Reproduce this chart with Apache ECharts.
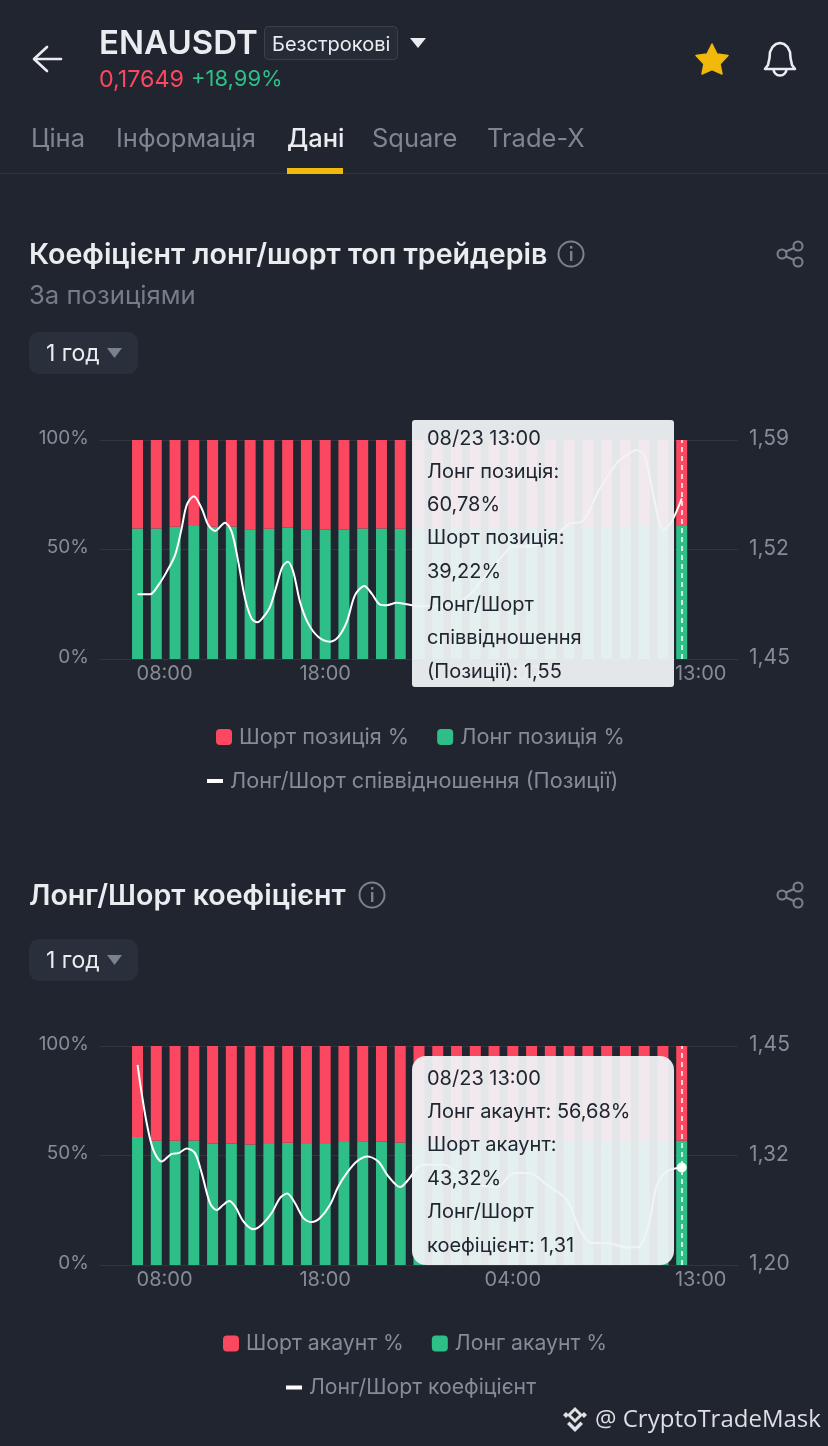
<!DOCTYPE html>
<html><head><meta charset="utf-8">
<style>html,body{margin:0;padding:0;background:#20252f}#c{width:828px;height:1446px}</style>
<script src="https://cdn.jsdelivr.net/npm/echarts@6/dist/echarts.min.js"></script>
</head><body><div id="c"></div>
<script>
const hours=['08:00','09:00','10:00','11:00','12:00','13:00','14:00','15:00','16:00','17:00','18:00','19:00','20:00','21:00','22:00','23:00','00:00','01:00','02:00','03:00','04:00','05:00','06:00','07:00','08:00','09:00','10:00','11:00','12:00','13:00'];
const posLong=[59.6,59.6,60.4,60.7,60.4,60.5,59.3,59.5,60.1,59.3,59.1,59.1,59.6,59.6,59.5,59.6,59.7,59.8,59.8,59.9,60,60,60.2,60.3,60.4,60.5,60.6,60.7,60.7,60.78];
const posShort=[40.4,40.4,39.6,39.3,39.6,39.5,40.7,40.5,39.9,40.7,40.9,40.9,40.4,40.4,40.5,40.4,40.3,40.2,40.2,40.1,40,40,39.8,39.7,39.6,39.5,39.4,39.3,39.3,39.22];
/* line readings: [hour position along the bars, ratio] */
const posRatio=[[0,1.4914],[.67,1.4914],[1.11,1.4972],[1.55,1.5057],[2,1.5164],[2.35,1.5334],[2.62,1.5484],[3,1.5541],[3.42,1.5462],[3.77,1.5356],[4.13,1.5319],[4.66,1.5371],[5.02,1.5313],[5.37,1.5121],[5.73,1.4886],[6.08,1.4758],[6.39,1.4735],[6.71,1.4769],[7.06,1.4833],[7.42,1.4972],[7.72,1.5089],[8,1.5121],[8.3,1.5057],[8.66,1.4865],[9.1,1.4726],[9.64,1.4641],[10.26,1.4611],[10.7,1.4641],[11.15,1.4737],[11.59,1.4908],[12.09,1.4967],[12.48,1.4918],[12.92,1.4848],[13.28,1.4844],[13.81,1.4859],[14.34,1.485],[15,1.4837],[15.41,1.4839],[16.2,1.4839],[17.36,1.4876],[18.43,1.5014],[19.32,1.5142],[20.03,1.5217],[20.91,1.5221],[21.8,1.5249],[22.5,1.5313],[23.05,1.5366],[23.67,1.5377],[24.64,1.559],[25.53,1.5751],[26.07,1.5804],[26.6,1.5836],[27.04,1.5793],[27.49,1.5548],[28.02,1.5324],[28.46,1.5377],[29,1.5526]];
const accLong=[58.5,56.7,56.7,56.8,55.5,55.5,55,55.3,55.8,55.3,55.3,56.2,56.5,56.4,55.9,56,56,55.9,56,56.1,56.2,56.2,56.3,56.3,56.4,56.4,56.5,56.5,56.6,56.68];
const accShort=[41.5,43.3,43.3,43.2,44.5,44.5,45,44.7,44.2,44.7,44.7,43.8,43.5,43.6,44.1,44,44,44.1,44,43.9,43.8,43.8,43.7,43.7,43.6,43.6,43.5,43.5,43.4,43.32];
const accRatio=[[0,1.4284],[.22,1.3961],[.49,1.3619],[.84,1.3315],[1.29,1.3182],[1.82,1.3269],[2.18,1.3277],[2.62,1.333],[3.06,1.3277],[3.42,1.3049],[3.86,1.2707],[4.22,1.2627],[4.57,1.2688],[4.88,1.273],[5.2,1.2669],[5.64,1.2498],[6.17,1.2407],[6.62,1.246],[7.15,1.2593],[7.59,1.2764],[7.98,1.2817],[8.39,1.2707],[8.84,1.2536],[9.28,1.249],[9.72,1.2536],[10.26,1.2688],[10.7,1.2897],[11.15,1.3049],[11.68,1.3182],[12.25,1.3239],[12.83,1.3182],[13.37,1.3011],[13.99,1.2889],[14.43,1.2973],[14.97,1.3125],[15.23,1.3144],[16.3,1.3144],[17.36,1.3011],[18.6,1.2897],[19.23,1.2897],[20.03,1.3049],[20.91,1.3049],[21.8,1.2916],[22.87,1.2745],[23.58,1.2403],[24.2,1.2251],[25,1.2251],[26.07,1.2201],[26.69,1.2205],[27.22,1.2441],[27.66,1.2897],[28.2,1.3068],[29,1.3113]];
const posRight=[1.45,1.52,1.59];
const accRight=[1.20,1.325,1.45];
const shownLabels={2:'08:00',12:'18:00',22:'04:00',31:'13:00'};
const FONT='Inter, "Noto Sans", sans-serif';
const BG='#20252f',GRID='#30363f',AXT='#868c97',RED='#fb4860',GREEN='#2dbf87',YEL='#f0b90b';
const lead=[null,null],trail=[null,null,null];
const pad=a=>[...lead,...a,...trail];
const cats=['','',...hours,'','',''];
const lastIdx=cats.length-4;

function xAxis(i){const st={color:AXT,fontSize:20,fontFamily:FONT};return {type:'category',gridIndex:i,data:cats,boundaryGap:false,
  axisLine:{lineStyle:{color:GRID}},axisTick:{show:false},splitLine:{show:false},
  axisLabel:Object.assign({interval:0,margin:5,
    formatter:(v,idx)=>{const s=shownLabels[idx];if(!s)return '';
      return idx===2?'{a|'+s+'}':idx===31?'{b|'+s+'}':'{c|'+s+'}';},
    rich:{a:Object.assign({padding:[0,0,0,54]},st),b:Object.assign({padding:[0,0,0,38]},st),c:st}},st)};}
function xLine(i){return {type:'value',gridIndex:i,min:-2,max:32,show:false};}
function yLeft(i){return {type:'value',gridIndex:i,min:0,max:100,interval:50,position:'left',
  axisLine:{show:false},axisTick:{show:false},splitLine:{lineStyle:{color:GRID}},
  axisLabel:{margin:11,formatter:v=>'{a|'+v+'%}',rich:{a:{color:AXT,fontSize:19,fontFamily:FONT,padding:[0,0,4,0]}}}};}
function yRight(i,ticks){return {type:'value',gridIndex:i,min:ticks[0],max:ticks[2],position:'right',
  axisLine:{show:false},axisTick:{show:false},splitLine:{show:false},
  axisLabel:{customValues:ticks,margin:11,rich:{a:{color:AXT,fontSize:21,fontFamily:FONT,padding:[0,0,2,0]}},
    formatter:v=>'{a|'+(Math.floor(v*100+1e-6)/100).toFixed(2).replace('.',',')+'}'}};}
function seriesFor(i,nL,nS,nR,L,S,R,dot){
  const k=i*2;
  const line={name:nR,type:'line',xAxisIndex:i+2,yAxisIndex:k+1,data:R,smooth:0.3,showSymbol:false,z:5,
    lineStyle:{color:'#fff',width:2},itemStyle:{color:'#fff'}};
  if(dot)line.markPoint={symbol:'circle',symbolSize:10,itemStyle:{color:'#fff'},label:{show:false},
    data:[{coord:R[R.length-1]}]};
  return [
   {name:nL,type:'bar',stack:'s'+i,xAxisIndex:i,yAxisIndex:k,data:pad(L),barWidth:11,itemStyle:{color:GREEN},
    markLine:{silent:true,symbol:'none',label:{show:false},lineStyle:{color:'#fff',type:[5,4],width:1.5},data:[{xAxis:lastIdx}]},z:2},
   {name:nS,type:'bar',stack:'s'+i,xAxisIndex:i,yAxisIndex:k,data:pad(S),barWidth:11,itemStyle:{color:RED},z:2},
   line];
}
function legends(y,nS,nL,nR,x1,x2,size){
  const ts={color:AXT,fontSize:size,fontFamily:FONT,padding:[0,0,0,2]};
  return [
   {data:[{name:nS,icon:'roundRect',itemStyle:{color:RED}},{name:nL,icon:'roundRect',itemStyle:{color:GREEN}}],left:x1,top:y-3,padding:0,
    itemWidth:16,itemHeight:16,itemGap:28,textStyle:ts,selectedMode:false},
   {data:[{name:nR,icon:'rect',itemStyle:{color:'#fff'}}],left:x2,top:y+44-3,padding:0,itemWidth:16,itemHeight:4,textStyle:ts,selectedMode:false}];
}
/* page chrome */
const T=(x,y,text,size,fill,weight,fam)=>({type:'text',z:200,style:{x,y:y+1.5,text,fill,textVerticalAlign:'middle',font:(weight||400)+' '+size+'px '+(fam||FONT)}});
const Rc=(x,y,w,h,r,fill,stroke,z)=>({type:'rect',z:z||190,shape:{x,y,width:w,height:h,r},style:{fill,stroke:stroke||null,lineWidth:1}});
const PL=(points,style)=>({type:'polyline',z:200,shape:{points},style:Object.assign({fill:null,lineJoin:'round',lineCap:'round'},style)});
const PG=(points,fill)=>({type:'polygon',z:200,shape:{points},style:{fill}});
const tri=(x1,x2,y1,y2,c)=>PG([[x1,y1],[x2,y1],[(x1+x2)/2,y2]],c);
const GR='#7c828d';
function info(cx,cy){return [{type:'circle',z:200,shape:{cx,cy,r:12.5},style:{fill:null,stroke:GR,lineWidth:2}},
  Rc(cx-1,cy-3,2.4,10,0,GR,null,200),Rc(cx-1,cy-8,2.4,2.6,0,GR,null,200)];}
function share(cx,cy){const s={stroke:GR,lineWidth:2};const c=(x,y)=>({type:'circle',z:200,shape:{cx:x,cy:y,r:4.5},style:{fill:null,stroke:GR,lineWidth:2}});return [
  c(cx+8,cy-8),c(cx-8,cy),c(cx+8,cy+8),
  PL([[cx+4,cy-6],[cx-4,cy-2.5]],s),PL([[cx-4,cy+2.5],[cx+4,cy+6]],s)];}
function pill(y){return [Rc(29,y,109,42,10,'#2a303b'),T(46,y+21,'1 год',23,'#eaecef'),tri(107,122,y+16,y+26,GR)];}
const tipLines1=['08/23 13:00','Лонг позиція:','60,78%','Шорт позиція:','39,22%','Лонг/Шорт','співвідношення','(Позиції): 1,55'];
const tipLines2=['08/23 13:00','Лонг акаунт: 56,68%','Шорт акаунт:','43,32%','Лонг/Шорт','коефіцієнт: 1,31'];
const W={stroke:'#eaecef',lineWidth:2.6};
const graphic=[
  PL([[61,59],[35,59]],W),PL([[47,47],[34,59],[47,71]],W),
  T(99,43,'ENAUSDT',33,'#eaecef',600),
  Rc(264.5,26.5,133,33,4,'#262c36','#3a414c'),
  T(272,43,'Безстрокові',20,'#eaecef'),
  tri(410,426,38,48,'#eaecef'),
  T(99,78,'0,17649',23.3,RED),T(191,78,'+18,99%',22,GREEN),
  {type:'polygon',z:200,shape:{points:[[712,44],[717,54],[728,55.5],[720,64],[722,74],[712,69.5],[702,74],[704,64],[696,55.5],[707,54]]},style:{fill:YEL,stroke:YEL,lineWidth:1.5,lineJoin:'round'}},
  PL([[765,69],[768,65],[769.5,58],[770,52],[772.5,47],[776,44],[780,43],[784,44],[787.5,47],[790,52],[790.5,58],[792,65],[795,69],[765,69]],W),
  {type:'arc',z:200,shape:{cx:780,cy:69,r:6.5,startAngle:0,endAngle:Math.PI,clockwise:true},style:{fill:null,stroke:'#eaecef',lineWidth:2.6}},
  T(31,138,'Ціна',25.5,'#7f8691'),T(116,138,'Інформація',25.5,'#7f8691'),T(287,138,'Дані',25.5,'#eaecef',500),T(372,138,'Square',25.5,'#7f8691'),T(487,138,'Trade-X',25.5,'#7f8691'),
  Rc(0,173,828,1,0,'#2d333d'),Rc(287,168,56,6,0,YEL),
  T(29,254,'Коефіцієнт лонг/шорт топ трейдерів',28.6,'#eaecef',600),...info(571,254),...share(790,254),
  T(29,295,'За позиціями',25.7,'#757c88'),...pill(332),
  T(29,895,'Лонг/Шорт коефіцієнт',28.6,'#eaecef',600),...info(372,895),...share(790,895),...pill(939),
  Rc(412,420,262,267,3,'rgba(240,243,245,0.94)',null,150),
  ...tipLines1.map((s,i)=>T(427,437+i*33.3,s,20,'#20252f')),
  Rc(412,1056,262,209,14,'rgba(240,243,245,0.94)',null,150),
  ...tipLines2.map((s,i)=>T(427,1077+i*33.4,s,20,'#20252f')),
  PG([[575,1407],[583,1415],[575,1423],[567,1415]],'#dfe2e5'),
  PG([[575,1411],[579,1415],[575,1419],[571,1415]],'#20252f'),
  PG([[563,1415],[566,1412],[569,1415],[566,1418]],'#dfe2e5'),
  PG([[581,1415],[584,1412],[587,1415],[584,1418]],'#dfe2e5'),
  PG([[567,1424],[575,1432],[583,1424],[580.5,1421.5],[575,1427],[569.5,1421.5]],'#dfe2e5'),
  T(595,1419,'@ CryptoTradeMask',24,'#dcdfe3',400,'"Open Sans", sans-serif')
];
const n=['Лонг позиція %','Шорт позиція %','Лонг/Шорт співвідношення (Позиції)'];
const m=['Лонг акаунт %','Шорт акаунт %','Лонг/Шорт коефіцієнт'];
const chart=echarts.init(document.getElementById('c'),null,{width:828,height:1446,renderer:'canvas'});
chart.setOption({
  animation:false,backgroundColor:BG,
  grid:[{left:100,right:90,top:440,height:219},{left:100,right:90,top:1046,height:219}],
  xAxis:[xAxis(0),xAxis(1),xLine(0),xLine(1)],
  yAxis:[yLeft(0),yRight(0,posRight),yLeft(1),yRight(1,accRight)],
  legend:[...legends(729,n[1],n[0],n[2],216,207,21.7),...legends(1336,m[1],m[0],m[2],223,286,21.2)],
  series:[...seriesFor(0,n[0],n[1],n[2],posLong,posShort,posRatio,false),...seriesFor(1,m[0],m[1],m[2],accLong,accShort,accRatio,true)],
  graphic:{elements:graphic}
});
</script></body></html>
